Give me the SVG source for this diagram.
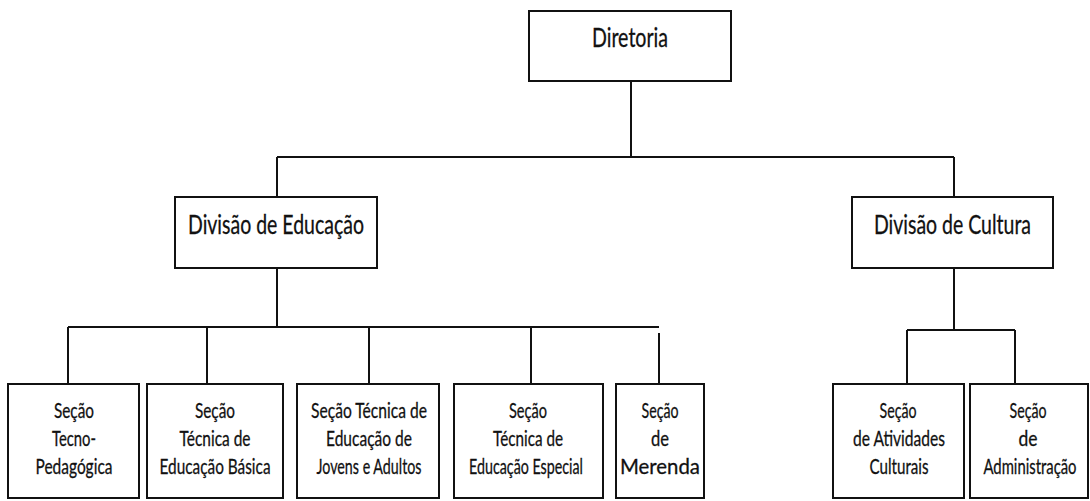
<svg xmlns="http://www.w3.org/2000/svg" width="1090" height="501" viewBox="0 0 1090 501">
<style>
.box{fill:#fff;stroke:#111;stroke-width:2}
.ln{stroke:#111;stroke-width:2;fill:none}
text{font-family:Lato,"Open Sans","Liberation Sans",sans-serif;fill:#111;stroke:#111;stroke-width:0.3;text-anchor:middle}
.t{font-size:27px}
.s{font-size:22px}
</style>
<rect width="1090" height="501" fill="#fff"/>
<g id="connectors">
<path class="ln" d="M631,81 V157 M277,157 H954 M277,157 V197 M954,157 V197"/>
<path class="ln" d="M277,268 V327 M68,327 H659 M68,327 V384 M207,327 V384 M369,327 V384 M531,327 V384 M659,333 V384"/>
<path class="ln" d="M954,268 V330 M907,330 H1015 M907,330 V384 M1015,330 V384"/>
</g>
<g id="diretoria"><rect class="box" x="529" y="11" width="202" height="70"/><text class="t" transform="translate(630,47) scale(0.72,1)" textLength="105.6" lengthAdjust="spacingAndGlyphs">Diretoria</text></g>
<g id="div-educacao"><rect class="box" x="175" y="197" width="202" height="71"/><text class="t" transform="translate(276,234) scale(0.72,1)" textLength="244.4" lengthAdjust="spacingAndGlyphs">Divisão de Educação</text></g>
<g id="div-cultura"><rect class="box" x="852" y="197" width="201" height="71"/><text class="t" transform="translate(952.5,234) scale(0.72,1)" textLength="218.1" lengthAdjust="spacingAndGlyphs">Divisão de Cultura</text></g>
<g id="sec-tecno"><rect class="box" x="8" y="384" width="131" height="114"/>
<text class="s" transform="translate(74,418) scale(0.72,1)" textLength="55.6" lengthAdjust="spacingAndGlyphs">Seção</text>
<text class="s" transform="translate(74,446) scale(0.72,1)" textLength="61.1" lengthAdjust="spacingAndGlyphs">Tecno-</text>
<text class="s" transform="translate(74,474) scale(0.72,1)" textLength="106.9" lengthAdjust="spacingAndGlyphs">Pedagógica</text></g>
<g id="sec-basica"><rect class="box" x="147" y="384" width="136" height="114"/>
<text class="s" transform="translate(215,418) scale(0.72,1)" textLength="55.6" lengthAdjust="spacingAndGlyphs">Seção</text>
<text class="s" transform="translate(215,446) scale(0.72,1)" textLength="98.6" lengthAdjust="spacingAndGlyphs">Técnica de</text>
<text class="s" transform="translate(215,474) scale(0.72,1)" textLength="154.2" lengthAdjust="spacingAndGlyphs">Educação Básica</text></g>
<g id="sec-eja"><rect class="box" x="297" y="384" width="142" height="114"/>
<text class="s" transform="translate(369,418) scale(0.72,1)" textLength="161.1" lengthAdjust="spacingAndGlyphs">Seção Técnica de</text>
<text class="s" transform="translate(369,446) scale(0.72,1)" textLength="119.4" lengthAdjust="spacingAndGlyphs">Educação de</text>
<text class="s" transform="translate(369,474) scale(0.72,1)" textLength="145.8" lengthAdjust="spacingAndGlyphs">Jovens e Adultos</text></g>
<g id="sec-especial"><rect class="box" x="454" y="384" width="149" height="114"/>
<text class="s" transform="translate(528,418) scale(0.72,1)" textLength="52.8" lengthAdjust="spacingAndGlyphs">Seção</text>
<text class="s" transform="translate(528,446) scale(0.72,1)" textLength="97.2" lengthAdjust="spacingAndGlyphs">Técnica de</text>
<text class="s" transform="translate(526,474) scale(0.72,1)" textLength="158.3" lengthAdjust="spacingAndGlyphs">Educação Especial</text></g>
<g id="sec-merenda"><rect class="box" x="616" y="384" width="88" height="114"/>
<text class="s" transform="translate(660,418) scale(0.72,1)" textLength="51.4" lengthAdjust="spacingAndGlyphs">Seção</text>
<text class="s" transform="translate(660,446) scale(0.72,1)" textLength="25" lengthAdjust="spacingAndGlyphs">de</text>
<text class="s" transform="translate(660,474) scale(0.72,1)" textLength="111.1" lengthAdjust="spacingAndGlyphs">Merenda</text></g>
<g id="sec-atividades"><rect class="box" x="833" y="384" width="131" height="114"/>
<text class="s" transform="translate(898,418) scale(0.72,1)" textLength="51.4" lengthAdjust="spacingAndGlyphs">Seção</text>
<text class="s" transform="translate(899,446) scale(0.72,1)" textLength="127.8" lengthAdjust="spacingAndGlyphs">de Atividades</text>
<text class="s" transform="translate(899,474) scale(0.72,1)" textLength="81.9" lengthAdjust="spacingAndGlyphs">Culturais</text></g>
<g id="sec-administracao"><rect class="box" x="970" y="384" width="118" height="114"/>
<text class="s" transform="translate(1028,418) scale(0.72,1)" textLength="51.4" lengthAdjust="spacingAndGlyphs">Seção</text>
<text class="s" transform="translate(1028,446) scale(0.72,1)" textLength="26.4" lengthAdjust="spacingAndGlyphs">de</text>
<text class="s" transform="translate(1030,474) scale(0.72,1)" textLength="129.2" lengthAdjust="spacingAndGlyphs">Administração</text></g>
</svg>
